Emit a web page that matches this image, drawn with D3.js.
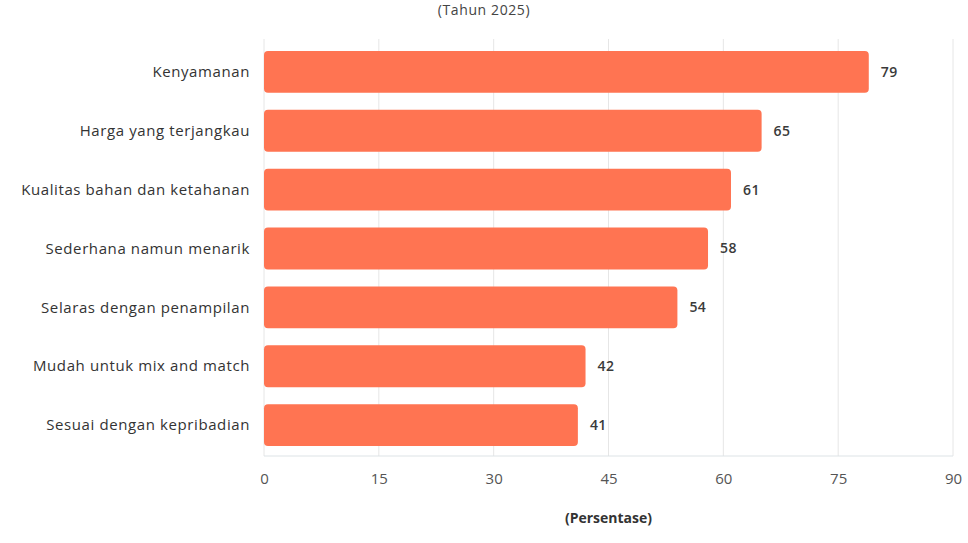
<!DOCTYPE html>
<html>
<head>
<meta charset="utf-8">
<script src="https://cdn.jsdelivr.net/npm/d3@7"></script>
<style>
  body { margin: 0; background: #fff; }
  svg { font-family: "Open Sans", sans-serif; }
</style>
</head>
<body>
<div id="chart"></div>
<script>
// Data
const categories = [
    'Kenyamanan',
    'Harga yang terjangkau',
    'Kualitas bahan dan ketahanan',
    'Sederhana namun menarik',
    'Selaras dengan penampilan',
    'Mudah untuk mix and match',
    'Sesuai dengan kepribadian'
];
const values = [79, 65, 61, 58, 54, 42, 41];
const xTicks = [0, 15, 30, 45, 60, 75, 90];
const subtitle = '(Tahun 2025)';
const xTitle = '(Persentase)';

let margin = {top: 41, right: 15, bottom: 87, left: 264},
    width = 968 - margin.left - margin.right,
    height = 543 - margin.top - margin.bottom;

const svg = d3.select('#chart')
    .append('svg')
    .attr('width', 968)
    .attr('height', 543);

const g = svg.append('g')
    .attr('transform', 'translate(' + margin.left + ',' + margin.top + ')');

// scales
let x = d3.scaleLinear().domain([0, 90]).range([0, 689]);
let y = d3.scaleBand().domain(categories).range([0, height]).paddingInner(0.29).paddingOuter(0.17);

// gridlines
g.selectAll('.grid')
    .data(xTicks).enter()
    .append('line')
    .attr('x1', d => x(d)).attr('x2', d => x(d))
    .attr('y1', -2).attr('y2', height)
    .attr('stroke', '#e6e6e6')
    .attr('stroke-width', 1);

// x axis line
g.append('line')
    .attr('x1', 0).attr('x2', x(90))
    .attr('y1', height).attr('y2', height)
    .attr('stroke', '#dde3e6');

// bars
g.selectAll('.bar')
    .data(values).enter()
    .append('rect')
    .attr('x', 0)
    .attr('y', (d, i) => y(categories[i]))
    .attr('width', d => x(d))
    .attr('height', y.bandwidth())
    .attr('rx', 4)
    .attr('fill', '#ff7452');

// value labels
g.selectAll('.val')
    .data(values).enter()
    .append('text')
    .attr('x', d => x(d) + 12)
    .attr('y', (d, i) => y(categories[i]) + y.bandwidth() / 2)
    .attr('dy', '0.35em')
    .attr('font-size', 14)
    .attr('font-weight', 600)
    .attr('letter-spacing', 0.4)
    .attr('fill', '#3a3a3a')
    .text(d => d);

// category labels
g.selectAll('.cat')
    .data(categories).enter()
    .append('text')
    .attr('x', -14)
    .attr('y', d => y(d) + y.bandwidth() / 2)
    .attr('dy', '0.35em')
    .attr('text-anchor', 'end')
    .attr('font-size', 15)
    .attr('letter-spacing', 0.6)
    .attr('fill', '#333')
    .text(d => d);

// x tick labels
let xAxis = d3.axisBottom(x).tickValues(xTicks).tickSize(0).tickPadding(17);
let gX = g.append('g')
    .attr('transform', 'translate(0,' + height + ')')
    .call(xAxis);
gX.select('.domain').remove();
gX.selectAll('text')
    .attr('font-family', '"Open Sans", sans-serif')
    .attr('font-size', 15)
    .attr('fill', '#555');

// axis title
svg.append('text')
    .attr('x', margin.left + x(45))
    .attr('y', 523)
    .attr('text-anchor', 'middle')
    .attr('font-size', 14)
    .attr('font-weight', 700)
    .attr('fill', '#333')
    .text(xTitle);

// subtitle
svg.append('text')
    .attr('x', 484)
    .attr('y', 15)
    .attr('text-anchor', 'middle')
    .attr('font-size', 14)
    .attr('letter-spacing', 0.6)
    .attr('fill', '#444')
    .text(subtitle);
</script>
</body>
</html>
